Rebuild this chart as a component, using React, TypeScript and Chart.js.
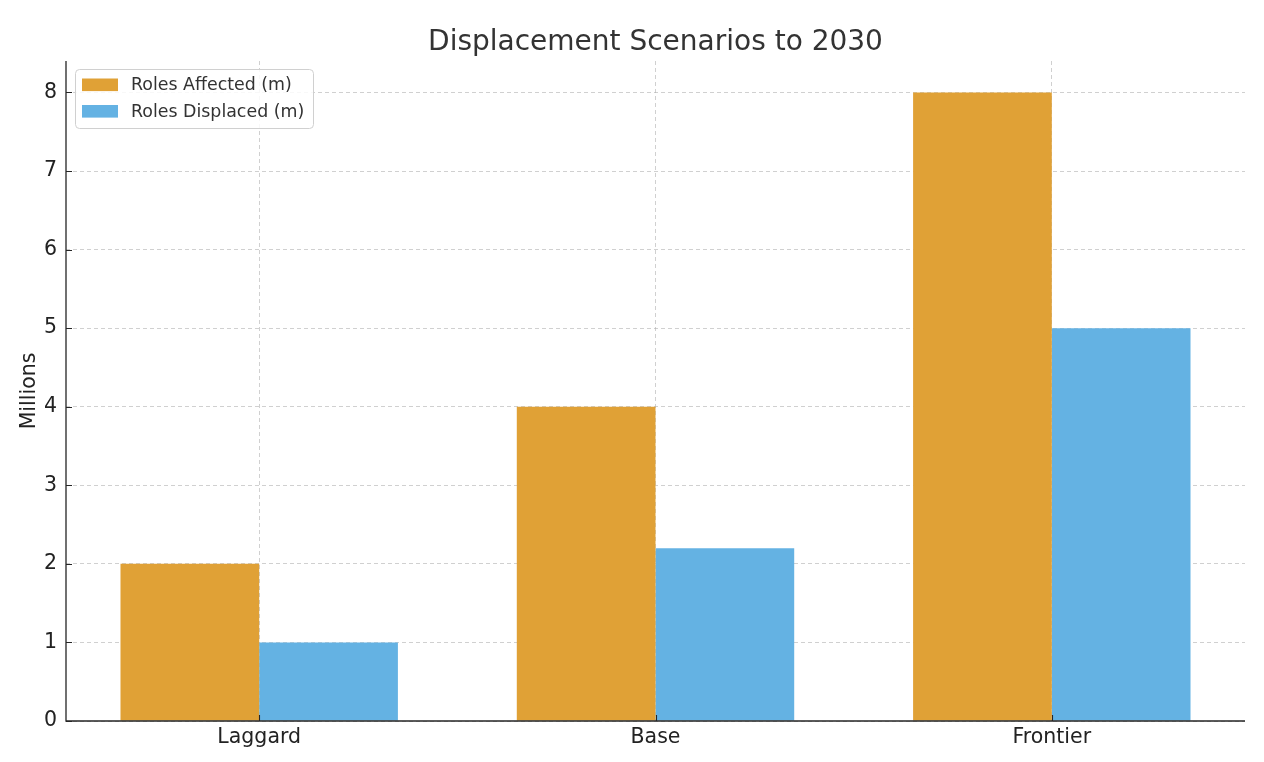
import React, { useEffect, useRef } from "react";
import { Chart, registerables } from "chart.js";

Chart.register(...registerables);

// Scenario categories and values (millions of roles)
const scenarios = ["Laggard", "Base", "Frontier"];
const rolesAffected = [2, 4, 8];
const rolesDisplaced = [1, 2.2, 5];
const seriesLabels = ["Roles Affected (m)", "Roles Displaced (m)"];
const yTicks = [0, 1, 2, 3, 4, 5, 6, 7, 8];

const ORANGE = "#E0A136";
const BLUE = "#64B2E3";
const FONT = "'DejaVu Sans', sans-serif";
const AXIS_COLOR = "#262626";

// Spines, inward tick marks and the boxed legend inside the plot area
const framePlugin = {
  id: "frame",
  afterDatasetsDraw(chart: any) {
    const { ctx, chartArea, scales } = chart;
    const { left, right, top, bottom } = chartArea;
    ctx.save();
    ctx.strokeStyle = AXIS_COLOR;
    ctx.lineWidth = 1.3;
    ctx.beginPath();
    ctx.moveTo(left, top);
    ctx.lineTo(left, bottom);
    ctx.lineTo(right, bottom);
    ctx.stroke();

    ctx.lineWidth = 1.1;
    ctx.beginPath();
    for (const t of scales.y.ticks) {
      const py = Math.round(scales.y.getPixelForValue(t.value)) + 0.5;
      ctx.moveTo(left, py);
      ctx.lineTo(left + 6, py);
    }
    for (const t of scales.x.ticks) {
      const px = Math.round(scales.x.getPixelForValue(t.value)) + 0.5;
      ctx.moveTo(px, bottom);
      ctx.lineTo(px, bottom - 6);
    }
    ctx.stroke();

    // legend
    const lx = left + 9.5;
    const ly = top + 8.5;
    const lw = 238;
    const lh = 59;
    ctx.beginPath();
    ctx.roundRect(lx, ly, lw, lh, 4);
    ctx.fillStyle = "rgba(255,255,255,0.85)";
    ctx.fill();
    ctx.strokeStyle = "#d0d0d0";
    ctx.lineWidth = 1;
    ctx.stroke();

    const colors = [ORANGE, BLUE];
    ctx.font = `17.4px ${FONT}`;
    ctx.textBaseline = "middle";
    ctx.textAlign = "left";
    seriesLabels.forEach((label, i) => {
      const cy = top + 23.8 + i * 26.5;
      ctx.fillStyle = colors[i];
      ctx.fillRect(left + 16, cy - 6.3, 36, 12.6);
      ctx.fillStyle = "#333333";
      ctx.fillText(label, left + 65, cy + 1);
    });
    ctx.restore();
  },
};

export default function App() {
  const canvasRef = useRef<HTMLCanvasElement | null>(null);

  useEffect(() => {
    if (!canvasRef.current) return;
    const chart = new Chart(canvasRef.current, {
      type: "bar",
      data: {
        datasets: [
          {
            label: seriesLabels[0],
            data: rolesAffected.map((v, i) => ({ x: i, y: v })),
            backgroundColor: ORANGE,
            borderWidth: 0,
            categoryPercentage: 0.7,
            barPercentage: 1,
          },
          {
            label: seriesLabels[1],
            data: rolesDisplaced.map((v, i) => ({ x: i, y: v })),
            backgroundColor: BLUE,
            borderWidth: 0,
            categoryPercentage: 0.7,
            barPercentage: 1,
          },
        ],
      },
      plugins: [framePlugin],
      options: {
        responsive: false,
        animation: false,
        layout: { padding: { left: 0, right: 19, top: 0, bottom: 0 } },
        plugins: {
          legend: { display: false },
          tooltip: { enabled: false },
          title: {
            display: true,
            text: "Displacement Scenarios to 2030",
            fullSize: false,
            color: "#333333",
            font: { family: FONT, size: 28, weight: "normal" },
            padding: { top: 25.5, bottom: 1.9 },
          },
        },
        scales: {
          x: {
            type: "linear",
            offset: false,
            min: -0.4875,
            max: 2.4875,
            afterBuildTicks: (axis: any) => {
              axis.ticks = scenarios.map((_, i) => ({ value: i }));
            },
            afterFit: (axis: any) => {
              axis.height = 41;
            },
            ticks: {
              callback: (v: any) => scenarios[v] ?? "",
              color: "#222222",
              font: { family: FONT, size: 20.5 },
              padding: 4.5,
              maxRotation: 0,
            },
            grid: {
              offset: false,
              color: "rgba(176,176,176,0.6)",
              lineWidth: 1,
              drawTicks: false,
            },
            border: { display: false, dash: [4, 3] },
          },
          y: {
            min: 0,
            max: 8.4,
            afterBuildTicks: (axis: any) => {
              axis.ticks = yTicks.map((v) => ({ value: v }));
            },
            afterFit: (axis: any) => {
              axis.width = 66;
            },
            ticks: {
              color: "#222222",
              font: { family: FONT, size: 20.5 },
              padding: 9,
            },
            grid: {
              color: "rgba(176,176,176,0.6)",
              lineWidth: 1,
              drawTicks: false,
            },
            border: { display: false, dash: [4, 3] },
            title: {
              display: true,
              text: "Millions",
              color: "#222222",
              font: { family: FONT, size: 20.5 },
              padding: { top: 17.7, bottom: 0 },
            },
          },
        },
      },
    });
    return () => chart.destroy();
  }, []);

  return (
    <div style={{ position: "fixed", left: 0, top: 0, width: 1264, height: 762, background: "#fff" }}>
      <canvas ref={canvasRef} width={1264} height={762} />
    </div>
  );
}
